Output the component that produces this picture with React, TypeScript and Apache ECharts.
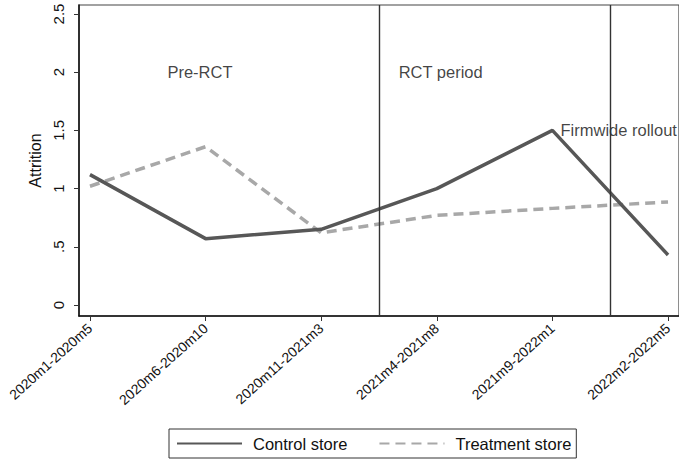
import React, { useEffect, useRef } from "react";
import * as echarts from "echarts";

const categories = ["2020m1-2020m5", "2020m6-2020m10", "2020m11-2021m3", "2021m4-2021m8", "2021m9-2022m1", "2022m2-2022m5"];
const controlStore = [1.12, 0.57, 0.65, 1.0, 1.5, 0.43];
const treatmentStore = [1.02, 1.36, 0.62, 0.77, 0.83, 0.885];
const yTicks = [0, 0.5, 1, 1.5, 2, 2.5];
const periodLines = [2.5, 4.5];
const annotations: [number, number, string][] = [
  [0.67, 2.0, "Pre-RCT"],
  [2.67, 2.0, "RCT period"],
  [4.07, 1.5, "Firmwide rollout"],
];

const FONT = "Liberation Sans, Arial, Helvetica, sans-serif";

export default function App() {
  const ref = useRef<HTMLDivElement>(null);
  useEffect(() => {
    const chart = echarts.init(ref.current!, null, { renderer: "svg" });
    const xIdx = categories.map((_, i) => i);
    chart.setOption({
      animation: false,
      textStyle: { fontFamily: FONT },
      grid: {
        left: 79,
        right: -1,
        top: 5,
        bottom: 150,
        show: true,
        borderColor: "#444",
        borderWidth: 1.2,
      },
      xAxis: {
        type: "value",
        min: -0.095,
        max: 5.095,
        splitLine: { show: false },
        axisLine: { show: true, onZero: false, lineStyle: { color: "#111", width: 1.5 } },
        axisTick: { show: true, customValues: xIdx, length: 5, lineStyle: { color: "#333", width: 1 } },
        axisLabel: {
          customValues: xIdx,
          rotate: 42,
          fontSize: 14,
          color: "#111",
          margin: 10,
          fontFamily: FONT,
          formatter: (v: number) => categories[Math.round(v)] ?? "",
        },
      },
      yAxis: {
        type: "value",
        min: -0.0945,
        max: 2.577,
        name: "Attrition",
        nameLocation: "middle",
        nameGap: 33,
        nameTextStyle: { fontSize: 16, color: "#111", fontFamily: FONT },
        splitLine: { show: false },
        axisLine: { show: true, onZero: false, lineStyle: { color: "#111", width: 1.5 } },
        axisTick: { show: true, customValues: yTicks, length: 5, lineStyle: { color: "#333", width: 1 } },
        axisLabel: {
          customValues: yTicks,
          rotate: 90,
          fontSize: 15,
          color: "#111",
          margin: 13,
          fontFamily: FONT,
          formatter: (v: number) => (v === 0.5 ? ".5" : String(v)),
        },
      },
      legend: {
        bottom: 8,
        left: 169,
        itemWidth: 65,
        itemHeight: 14,
        itemGap: 31,
        borderColor: "#333",
        borderWidth: 1,
        borderRadius: 0,
        padding: [6, 5, 6, 7],
        itemStyle: { opacity: 0 },
        textStyle: { fontSize: 16.5, color: "#111", fontFamily: FONT, padding: [0, 0, 0, 6] },
        data: ["Control store", "Treatment store"],
      },
      series: [
        {
          name: "Control store",
          type: "line",
          data: controlStore.map((v, i) => [i, v]),
          symbol: "none",
          lineStyle: { color: "#575757", width: 3.5 },
          itemStyle: { color: "#575757" },
          markLine: {
            silent: true,
            symbol: "none",
            label: { show: false },
            lineStyle: { color: "#333", width: 1.4, type: "solid" },
            data: periodLines.map((x) => ({ xAxis: x })),
          },
          z: 3,
        },
        {
          name: "Treatment store",
          type: "line",
          data: treatmentStore.map((v, i) => [i, v]),
          symbol: "none",
          lineStyle: { color: "#a8a8a8", width: 3.5, type: [10, 6] },
          itemStyle: { color: "#a8a8a8" },
          z: 2,
        },
        {
          name: "annotations",
          type: "scatter",
          data: annotations.map((a) => ({ value: [a[0], a[1]], name: a[2] })),
          symbolSize: 0,
          silent: true,
          label: {
            show: true,
            position: "inside",
            align: "left",
            verticalAlign: "middle",
            formatter: (p: any) => p.name,
            fontSize: 16.5,
            color: "#111",
            fontFamily: FONT,
          },
          z: 4,
        },
      ],
    });
    return () => chart.dispose();
  }, []);
  return (
    <div
      ref={ref}
      style={{ position: "fixed", left: 0, top: 0, width: 679, height: 466, background: "#fff" }}
    />
  );
}
